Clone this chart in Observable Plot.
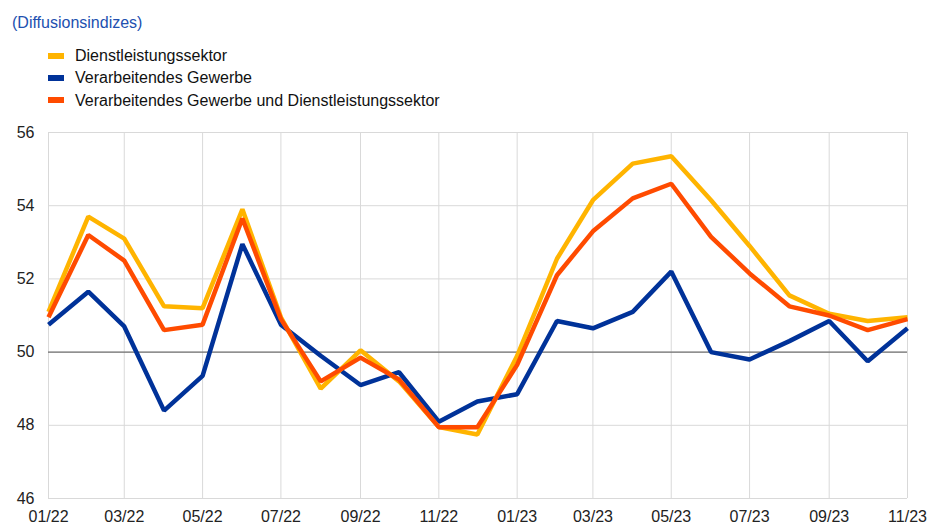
<!DOCTYPE html>
<html>
<head>
<meta charset="utf-8">
<script src="https://cdn.jsdelivr.net/npm/d3@7"></script>
<script src="https://cdn.jsdelivr.net/npm/@observablehq/plot@0.6"></script>
<style>
  body { margin: 0; background: #fff; font-family: "Liberation Sans", Arial, sans-serif; }
  #wrap { width: 928px; height: 524px; position: relative; overflow: hidden; }
  #title { position: absolute; left: 12px; top: 13px; font-size: 16px; line-height: 20px; color: #2150b0; }
  .leg { position: absolute; left: 48px; font-size: 16px; color: #111; height: 20px; line-height: 20px; }
  .leg span.sw { display: inline-block; width: 16px; height: 6px; vertical-align: middle; margin-right: 11px; position: relative; top: -1px; }
  #chart { position: absolute; left: 0; top: 120px; }
</style>
</head>
<body>
<div id="wrap">
  <div id="title">(Diffusionsindizes)</div>
  <div id="legend"></div>
  <div id="chart"></div>
</div>
<script>
const months = ["2022-01","2022-02","2022-03","2022-04","2022-05","2022-06","2022-07","2022-08","2022-09","2022-10","2022-11","2022-12",
                "2023-01","2023-02","2023-03","2023-04","2023-05","2023-06","2023-07","2023-08","2023-09","2023-10","2023-11"];
const dienstleistung = [51.1,53.7,53.1,51.25,51.2,53.9,50.95,49.0,50.05,49.2,47.95,47.75,
                        49.9,52.55,54.15,55.15,55.35,54.15,52.9,51.55,51.05,50.85,50.95];
const verarbeitend = [50.75,51.65,50.7,48.4,49.35,52.95,50.75,49.9,49.1,49.45,48.1,48.65,
                      48.85,50.85,50.65,51.1,52.2,50.0,49.8,50.3,50.85,49.75,50.65];
const gesamt = [50.95,53.2,52.5,50.6,50.75,53.65,50.9,49.2,49.85,49.25,47.95,47.95,
                49.65,52.1,53.3,54.2,54.6,53.15,52.15,51.25,51.0,50.6,50.9];
const seriesNames = ["Dienstleistungssektor","Verarbeitendes Gewerbe","Verarbeitendes Gewerbe und Dienstleistungssektor"];
const seriesColors = ["#ffb400","#003299","#ff4b00"];
const yTicks = [46,48,50,52,54,56];
const xTickLabels = ["01/22","03/22","05/22","07/22","09/22","11/22","01/23","03/23","05/23","07/23","09/23","11/23"];

const parse = d3.utcParse("%Y-%m");
const dates = months.map(parse);
const xTicks = xTickLabels.map(s => parse("20" + s.slice(3) + "-" + s.slice(0,2)));

const rows = [];
const valueSets = [dienstleistung, verarbeitend, gesamt];
valueSets.forEach((vals, i) => vals.forEach((v, j) => rows.push({date: dates[j], value: v, series: seriesNames[i]})));

// legend
const legend = document.getElementById("legend");
seriesNames.forEach((name, i) => {
  const d = document.createElement("div");
  d.className = "leg";
  d.style.top = (46 + i * 22.3) + "px";
  d.innerHTML = `<span class="sw" style="background:${seriesColors[i]}"></span>${name}`;
  legend.appendChild(d);
});

const drawOrder = [1, 0, 2];
const chart = Plot.plot({
  width: 928,
  height: 404,
  marginLeft: 48,
  marginRight: 21,
  marginTop: 12,
  marginBottom: 26,
  style: {fontFamily: "'Liberation Sans', Arial, sans-serif", fontSize: "16px", color: "#222", background: "transparent"},
  x: {type: "utc", domain: [dates[0], dates[dates.length - 1]], label: null},
  y: {domain: [46, 56], label: null},
  marks: [
    Plot.ruleX(xTicks, {stroke: "#d9d9d9", strokeWidth: 1}),
    Plot.ruleY(yTicks, {stroke: "#d9d9d9", strokeWidth: 1}),
    Plot.ruleY([50], {stroke: "#555", strokeWidth: 1}),
    ...drawOrder.map(i => Plot.line(rows.filter(r => r.series === seriesNames[i]), {
      x: "date", y: "value", stroke: seriesColors[i], strokeWidth: 4.5, strokeLinejoin: "miter", strokeLinecap: "butt"
    })),
    Plot.axisX({ticks: xTicks, tickFormat: d3.utcFormat("%m/%y"), tickSize: 0, tickPadding: 12, fontSize: 16, fill: "#222", label: null}),
    Plot.axisY({ticks: yTicks, tickSize: 0, tickPadding: 14, fontSize: 16, fill: "#222", label: null})
  ]
});
document.getElementById("chart").appendChild(chart);
</script>
</body>
</html>
